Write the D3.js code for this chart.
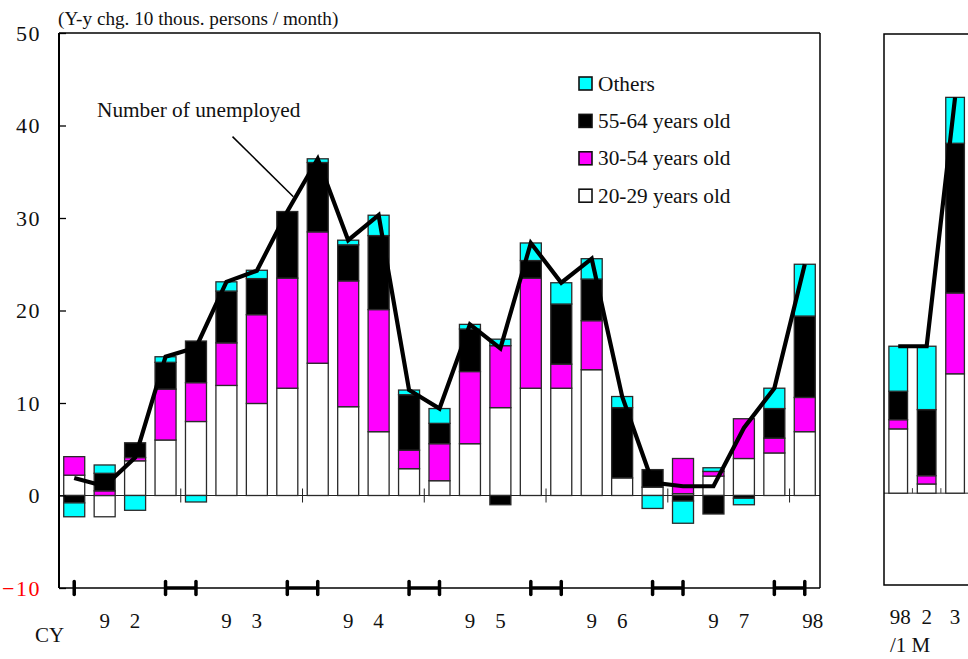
<!DOCTYPE html>
<html>
<head>
<meta charset="utf-8">
<script src="https://cdn.jsdelivr.net/npm/d3@7"></script>
<style>
  html, body { margin: 0; padding: 0; background: #fff; }
  svg { display: block; }
  text { font-family: "Liberation Serif", "Times New Roman", serif; fill: #111; }
</style>
</head>
<body>
<svg id="chart" width="968" height="659"></svg>
<script>
// ---------- DATA ----------
const quarters = ["92Q1","92Q2","92Q3","92Q4","93Q1","93Q2","93Q3","93Q4","94Q1","94Q2","94Q3","94Q4",
                  "95Q1","95Q2","95Q3","95Q4","96Q1","96Q2","96Q3","96Q4","97Q1","97Q2","97Q3","97Q4","98Q1"];
const age2029 = [2.2, -2.3, 3.75, 6.0, 8.0, 11.9, 9.95, 11.6, 14.3, 9.6, 6.9, 2.9, 1.6, 5.6, 9.5, 11.6, 11.6, 13.6, 1.9, 0.9, 0.2, 2.1, 4.0, 4.6, 6.9];
const age3054 = [2.0, 0.5, 0.35, 5.5, 4.2, 4.6, 9.6, 11.9, 14.2, 13.6, 13.2, 2.0, 4.0, 7.8, 6.7, 11.9, 2.6, 5.3, 0, 0, 3.8, 0.5, 4.3, 1.6, 3.7];
const age5564 = [-0.8, 1.9, 1.6, 2.9, 4.5, 5.6, 3.9, 7.2, 7.5, 3.9, 8.0, 6.0, 2.2, 4.6, -1.0, 1.9, 6.5, 4.5, 7.6, 1.9, -0.6, -2.0, -0.3, 3.2, 8.8];
const others  = [-1.5, 0.9, -1.6, 0.6, -0.7, 1.0, 0.9, 0, 0.4, 0.5, 2.2, 0.5, 1.6, 0.5, 0.7, 1.9, 2.3, 2.2, 1.2, -1.4, -2.4, 0.4, -0.7, 2.2, 5.6];
const unemployed = [1.9, 1.0, 4.1, 15.0, 16.0, 23.1, 24.3, 30.7, 36.4, 27.6, 30.3, 11.4, 9.4, 18.5, 15.9, 27.3, 23.0, 25.6, 10.7, 1.4, 1.0, 1.0, 7.3, 11.6, 25.0];
const quarterLabels = ["", "9", "2", "", "", "9", "3", "", "", "9", "4", "", "", "9", "5", "", "", "9", "6", "", "", "9", "7", "", "98"];
const yearEndQuarters = [0, 3, 4, 7, 8, 11, 12, 15, 16, 19, 20, 23, 24]; // Q4 / Q1 marks on the bottom axis

const months = ["98/1", "98/2", "98/3"];
const monthLabels = ["98", "2", "3"];
const m2029 = [7.0, 1.0, 13.0];
const m3054 = [1.0, 0.9, 8.8];
const m5564 = [3.1, 7.2, 16.3];
const mOthers = [4.9, 6.9, 5.0];
const mUnemployed = [16.0, 16.0, 43.1];

const yTicks = [-10, 0, 10, 20, 30, 40, 50];
const seriesNames = ["20-29 years old", "30-54 years old", "55-64 years old", "Others"];
const seriesColors = ["#ffffff", "#ff00ff", "#000000", "#00ffff"];
const legendOrder = [3, 2, 1, 0];

// ---------- CHART ----------
const svg = d3.select("#chart");
const L = { left: 59, right: 820, top: 33, bottom: 588 };
const R = { left: 884, right: 1010, top: 34, bottom: 585 };

const x = d3.scaleBand().domain(quarters).range([L.left, L.right]).paddingInner(0.31).paddingOuter(0.155);
const y = d3.scaleLinear().domain([-10, 50]).range([L.bottom, L.top]);
const xm = d3.scaleBand().domain(months).range([R.left, 969.3]).paddingInner(0.344).paddingOuter(0.172);
const ym = d3.scaleLinear().domain([-10, 50]).range([R.bottom, R.top]);

const keys = ["a", "b", "c", "d"];
function buildRows(cats, s1, s2, s3, s4) {
  return cats.map((c, i) => ({ cat: c, a: s1[i], b: s2[i], c: s3[i], d: s4[i] }));
}
const stack = d3.stack().keys(keys).offset(d3.stackOffsetDiverging);
const stacked = stack(buildRows(quarters, age2029, age3054, age5564, others));
const stackedM = stack(buildRows(months, m2029, m3054, m5564, mOthers));

// zero line (left)
svg.append("line").attr("x1", L.left).attr("x2", L.right)
  .attr("y1", y(0)).attr("y2", y(0)).attr("stroke", "#222").attr("stroke-width", 1);

// year boundary ticks on zero line
const step = x.step();
svg.append("g").selectAll("line").data(yearEndQuarters.filter(i => i > 0 && i % 4 === 0))
  .join("line")
  .attr("x1", i => x(quarters[i]) + x.bandwidth() / 2 - step / 2)
  .attr("x2", i => x(quarters[i]) + x.bandwidth() / 2 - step / 2)
  .attr("y1", y(0) - 7).attr("y2", y(0) + 7)
  .attr("stroke", "#222").attr("stroke-width", 1);

// bars (left)
stacked.forEach((layer, k) => {
  svg.append("g").selectAll("rect").data(layer.filter(d => Math.abs(d[1] - d[0]) > 1e-9))
    .join("rect")
    .attr("x", d => x(d.data.cat))
    .attr("width", x.bandwidth())
    .attr("y", d => y(Math.max(d[0], d[1])))
    .attr("height", d => Math.abs(y(d[0]) - y(d[1])))
    .attr("fill", seriesColors[k])
    .attr("stroke", "#2a2a2a").attr("stroke-width", 1.3);
});

// line (left)
const line = d3.line()
  .x((d, i) => x(quarters[i]) + x.bandwidth() / 2)
  .y(d => y(d));
svg.append("path").datum(unemployed).attr("d", line)
  .attr("fill", "none").attr("stroke", "#000").attr("stroke-width", 4.2).attr("stroke-linejoin", "miter");

// frame (left)
svg.append("line").attr("x1", L.left).attr("x2", L.left).attr("y1", L.top).attr("y2", L.bottom)
  .attr("stroke", "#000").attr("stroke-width", 2);
svg.append("line").attr("x1", L.left).attr("x2", L.right).attr("y1", L.top).attr("y2", L.top)
  .attr("stroke", "#000").attr("stroke-width", 1.5);
svg.append("line").attr("x1", L.right).attr("x2", L.right).attr("y1", L.top).attr("y2", L.bottom)
  .attr("stroke", "#000").attr("stroke-width", 1.5);
svg.append("line").attr("x1", L.left).attr("x2", L.right).attr("y1", L.bottom).attr("y2", L.bottom)
  .attr("stroke", "#000").attr("stroke-width", 1.5);

// y axis
const yAxis = d3.axisLeft(y).tickValues(yTicks).tickSizeInner(-7).tickSizeOuter(0).tickPadding(18).tickFormat(d3.format("d"));
const yg = svg.append("g").attr("transform", `translate(${L.left},0)`).call(yAxis);
yg.select(".domain").remove();
yg.selectAll(".tick line").attr("stroke", "#000").attr("stroke-width", 1.3);
yg.selectAll(".tick text")
  .attr("font-family", "Liberation Serif, Times New Roman, serif")
  .attr("font-size", 22)
  .attr("letter-spacing", 1.5)
  .attr("fill", d => d === -10 ? "#ff0000" : "#111")
  .style("fill", d => d === -10 ? "#ff0000" : "#111");

// bottom axis marks (Q4/Q1 pairs)
const cx = i => x(quarters[i]) + x.bandwidth() / 2;
const pairs = yearEndQuarters.filter(i => i % 4 === 3);
svg.append("g").selectAll("line").data(pairs).join("line")
  .attr("x1", i => cx(i)).attr("x2", i => cx(i + 1))
  .attr("y1", L.bottom).attr("y2", L.bottom)
  .attr("stroke", "#000").attr("stroke-width", 3.5);
svg.append("g").selectAll("line").data(yearEndQuarters).join("line")
  .attr("x1", i => cx(i)).attr("x2", i => cx(i))
  .attr("y1", L.bottom - 6.5).attr("y2", L.bottom + 6.5)
  .attr("stroke", "#000").attr("stroke-width", 3.5).attr("stroke-linecap", "round");

// x labels
svg.append("g").selectAll("text").data(quarterLabels.map((t, i) => ({ t, i })).filter(d => d.t))
  .join("text")
  .attr("x", d => cx(d.i) + (d.t.length > 1 ? 8 : 0))
  .attr("y", 628)
  .attr("text-anchor", "middle")
  .attr("font-size", 21)
  .text(d => d.t);
svg.append("text").attr("x", 35).attr("y", 642).attr("font-size", 21).text("CY");

// unit title
svg.append("text").attr("x", 58).attr("y", 25).attr("font-size", 19.2)
  .text("(Y-y chg. 10 thous. persons / month)");

// annotation
const idxX = t => cx(0) + t * step;
svg.append("text").attr("x", 97).attr("y", 117).attr("font-size", 21.3).text("Number of unemployed");
svg.append("line")
  .attr("x1", idxX(5.2)).attr("y1", y(38.8))
  .attr("x2", idxX(7.2)).attr("y2", y(32.3))
  .attr("stroke", "#000").attr("stroke-width", 1.5);

// legend
const lg = svg.append("g");
legendOrder.forEach((k, r) => {
  const cyv = 83.5 + r * 37.4;
  lg.append("rect").attr("x", 579).attr("y", cyv - 6.5).attr("width", 13).attr("height", 13)
    .attr("fill", seriesColors[k]).attr("stroke", "#111").attr("stroke-width", 1.6);
  lg.append("text").attr("x", 598).attr("y", cyv + 7).attr("font-size", 21.3).text(seriesNames[k]);
});

// ---------- RIGHT (monthly) CHART ----------
svg.append("line").attr("x1", R.left).attr("x2", R.right).attr("y1", ym(0)).attr("y2", ym(0))
  .attr("stroke", "#222").attr("stroke-width", 1);
svg.append("g").selectAll("line").data(months.slice(1)).join("line")
  .attr("x1", d => xm(d) - xm.step() * xm.paddingInner() / 2)
  .attr("x2", d => xm(d) - xm.step() * xm.paddingInner() / 2)
  .attr("y1", ym(0) - 5).attr("y2", ym(0))
  .attr("stroke", "#444").attr("stroke-width", 1);

stackedM.forEach((layer, k) => {
  svg.append("g").selectAll("rect").data(layer.filter(d => Math.abs(d[1] - d[0]) > 1e-9))
    .join("rect")
    .attr("x", d => xm(d.data.cat))
    .attr("width", xm.bandwidth())
    .attr("y", d => ym(Math.max(d[0], d[1])))
    .attr("height", d => Math.abs(ym(d[0]) - ym(d[1])))
    .attr("fill", seriesColors[k])
    .attr("stroke", "#2a2a2a").attr("stroke-width", 1.3);
});
const lineM = d3.line().x((d, i) => xm(months[i]) + xm.bandwidth() / 2).y(d => ym(d));
svg.append("path").datum(mUnemployed).attr("d", lineM)
  .attr("fill", "none").attr("stroke", "#000").attr("stroke-width", 4.2);

svg.append("path")
  .attr("d", `M${R.right},${R.top}H${R.left}V${R.bottom}H${R.right}`)
  .attr("fill", "none").attr("stroke", "#000").attr("stroke-width", 1.5);

svg.append("g").selectAll("text").data(monthLabels).join("text")
  .attr("x", (d, i) => xm(months[i]) + xm.bandwidth() / 2 + (i === 0 ? 2 : 0))
  .attr("y", 624).attr("text-anchor", "middle").attr("font-size", 21).text(d => d);
svg.append("text").attr("x", 890).attr("y", 652).attr("font-size", 21).text("/1 M");
</script>
</body>
</html>
